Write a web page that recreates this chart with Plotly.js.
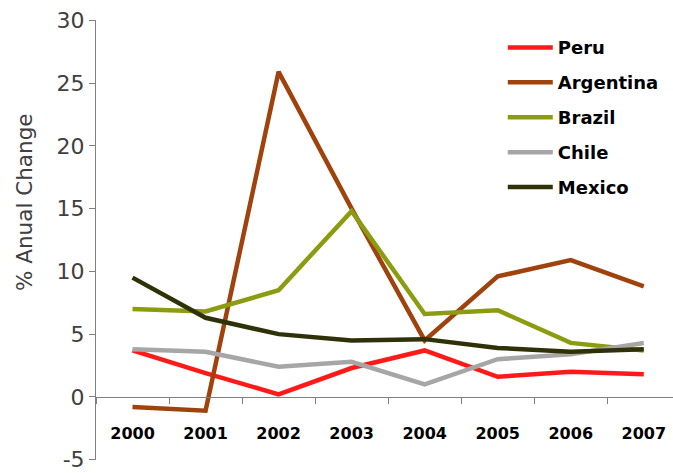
<!DOCTYPE html>
<html><head><meta charset="utf-8">
<script src="https://cdn.plot.ly/plotly-3.0.1.min.js"></script>
<style>html,body{margin:0;padding:0;background:#fff}#chart{width:673px;height:473px}</style>
</head><body><div id="chart"></div>
<script>
const years = ["2000","2001","2002","2003","2004","2005","2006","2007"];
const peru      = [3.7, 1.9, 0.2, 2.3, 3.7, 1.6, 2.0, 1.8];
const argentina = [-0.8, -1.1, 25.9, 15.0, 4.5, 9.6, 10.9, 8.8];
const brazil    = [7.0, 6.8, 8.5, 14.8, 6.6, 6.9, 4.3, 3.7];
const chile     = [3.8, 3.6, 2.4, 2.8, 1.0, 3.0, 3.4, 4.3];
const mexico    = [9.5, 6.3, 5.0, 4.5, 4.6, 3.9, 3.6, 3.8];
const names  = ["Peru","Argentina","Brazil","Chile","Mexico"];
const colors = ["#ff1a1a","#a0420c","#8c9c10","#a6a6a6","#2f3208"];
const series = [peru, argentina, brazil, chile, mexico];
const yTicks = [-5,0,5,10,15,20,25,30];
const yTickText = ["-5","0","5","10","15","20","25","30"];
const yTitle = "% Anual Change";

const traces = series.map((s,i)=>({
  x: years, y: s, type:"scatter", mode:"lines", name: names[i],
  legendgroup: names[i],
  line:{color: colors[i], width:4.5}
}));

const yr = [-5.03, 30.03];
const layout = {
  width:673, height:473,
  margin:{l:96, r:0, t:20, b:13},
  paper_bgcolor:"#fff", plot_bgcolor:"#fff",
  showlegend:true,
  legend:{x:0.705, y:0.979, xanchor:"left", yanchor:"top",
    font:{family:"DejaVu Sans", size:18, color:"#000", weight:"bold"},
    itemwidth:45,
    tracegroupgap:8.5, bgcolor:"rgba(0,0,0,0)"},
  xaxis:{type:"category", range:[-0.5, 7.4], anchor:"free", position:(0-yr[0])/(yr[1]-yr[0]),
    showline:true, linecolor:"#808080", linewidth:1,
    ticks:"outside", ticklen:6, tickcolor:"#808080", tickson:"boundaries",
    ticklabelstandoff:22,
    tickfont:{family:"DejaVu Sans", size:16, color:"#000", weight:"bold"},
    showgrid:false, zeroline:false, fixedrange:true},
  yaxis:{range:yr, tickmode:"array", tickvals:yTicks, ticktext:yTickText,
    ticklabeloverflow:"allow",
    showline:true, linecolor:"#808080", linewidth:1,
    ticks:"outside", ticklen:6, tickcolor:"#808080",
    tickfont:{family:"DejaVu Sans", size:22, color:"#404040"},
    showgrid:false, zeroline:false},
  annotations:[{text:yTitle, xref:"paper", yref:"paper", x:-0.123, y:0.5864,
    xanchor:"center", yanchor:"middle", textangle:-90, showarrow:false,
    font:{family:"DejaVu Sans", size:21.5, color:"#404040"}}]
};
Plotly.newPlot("chart", traces, layout, {displayModeBar:false, staticPlot:true});
</script>
</body></html>
